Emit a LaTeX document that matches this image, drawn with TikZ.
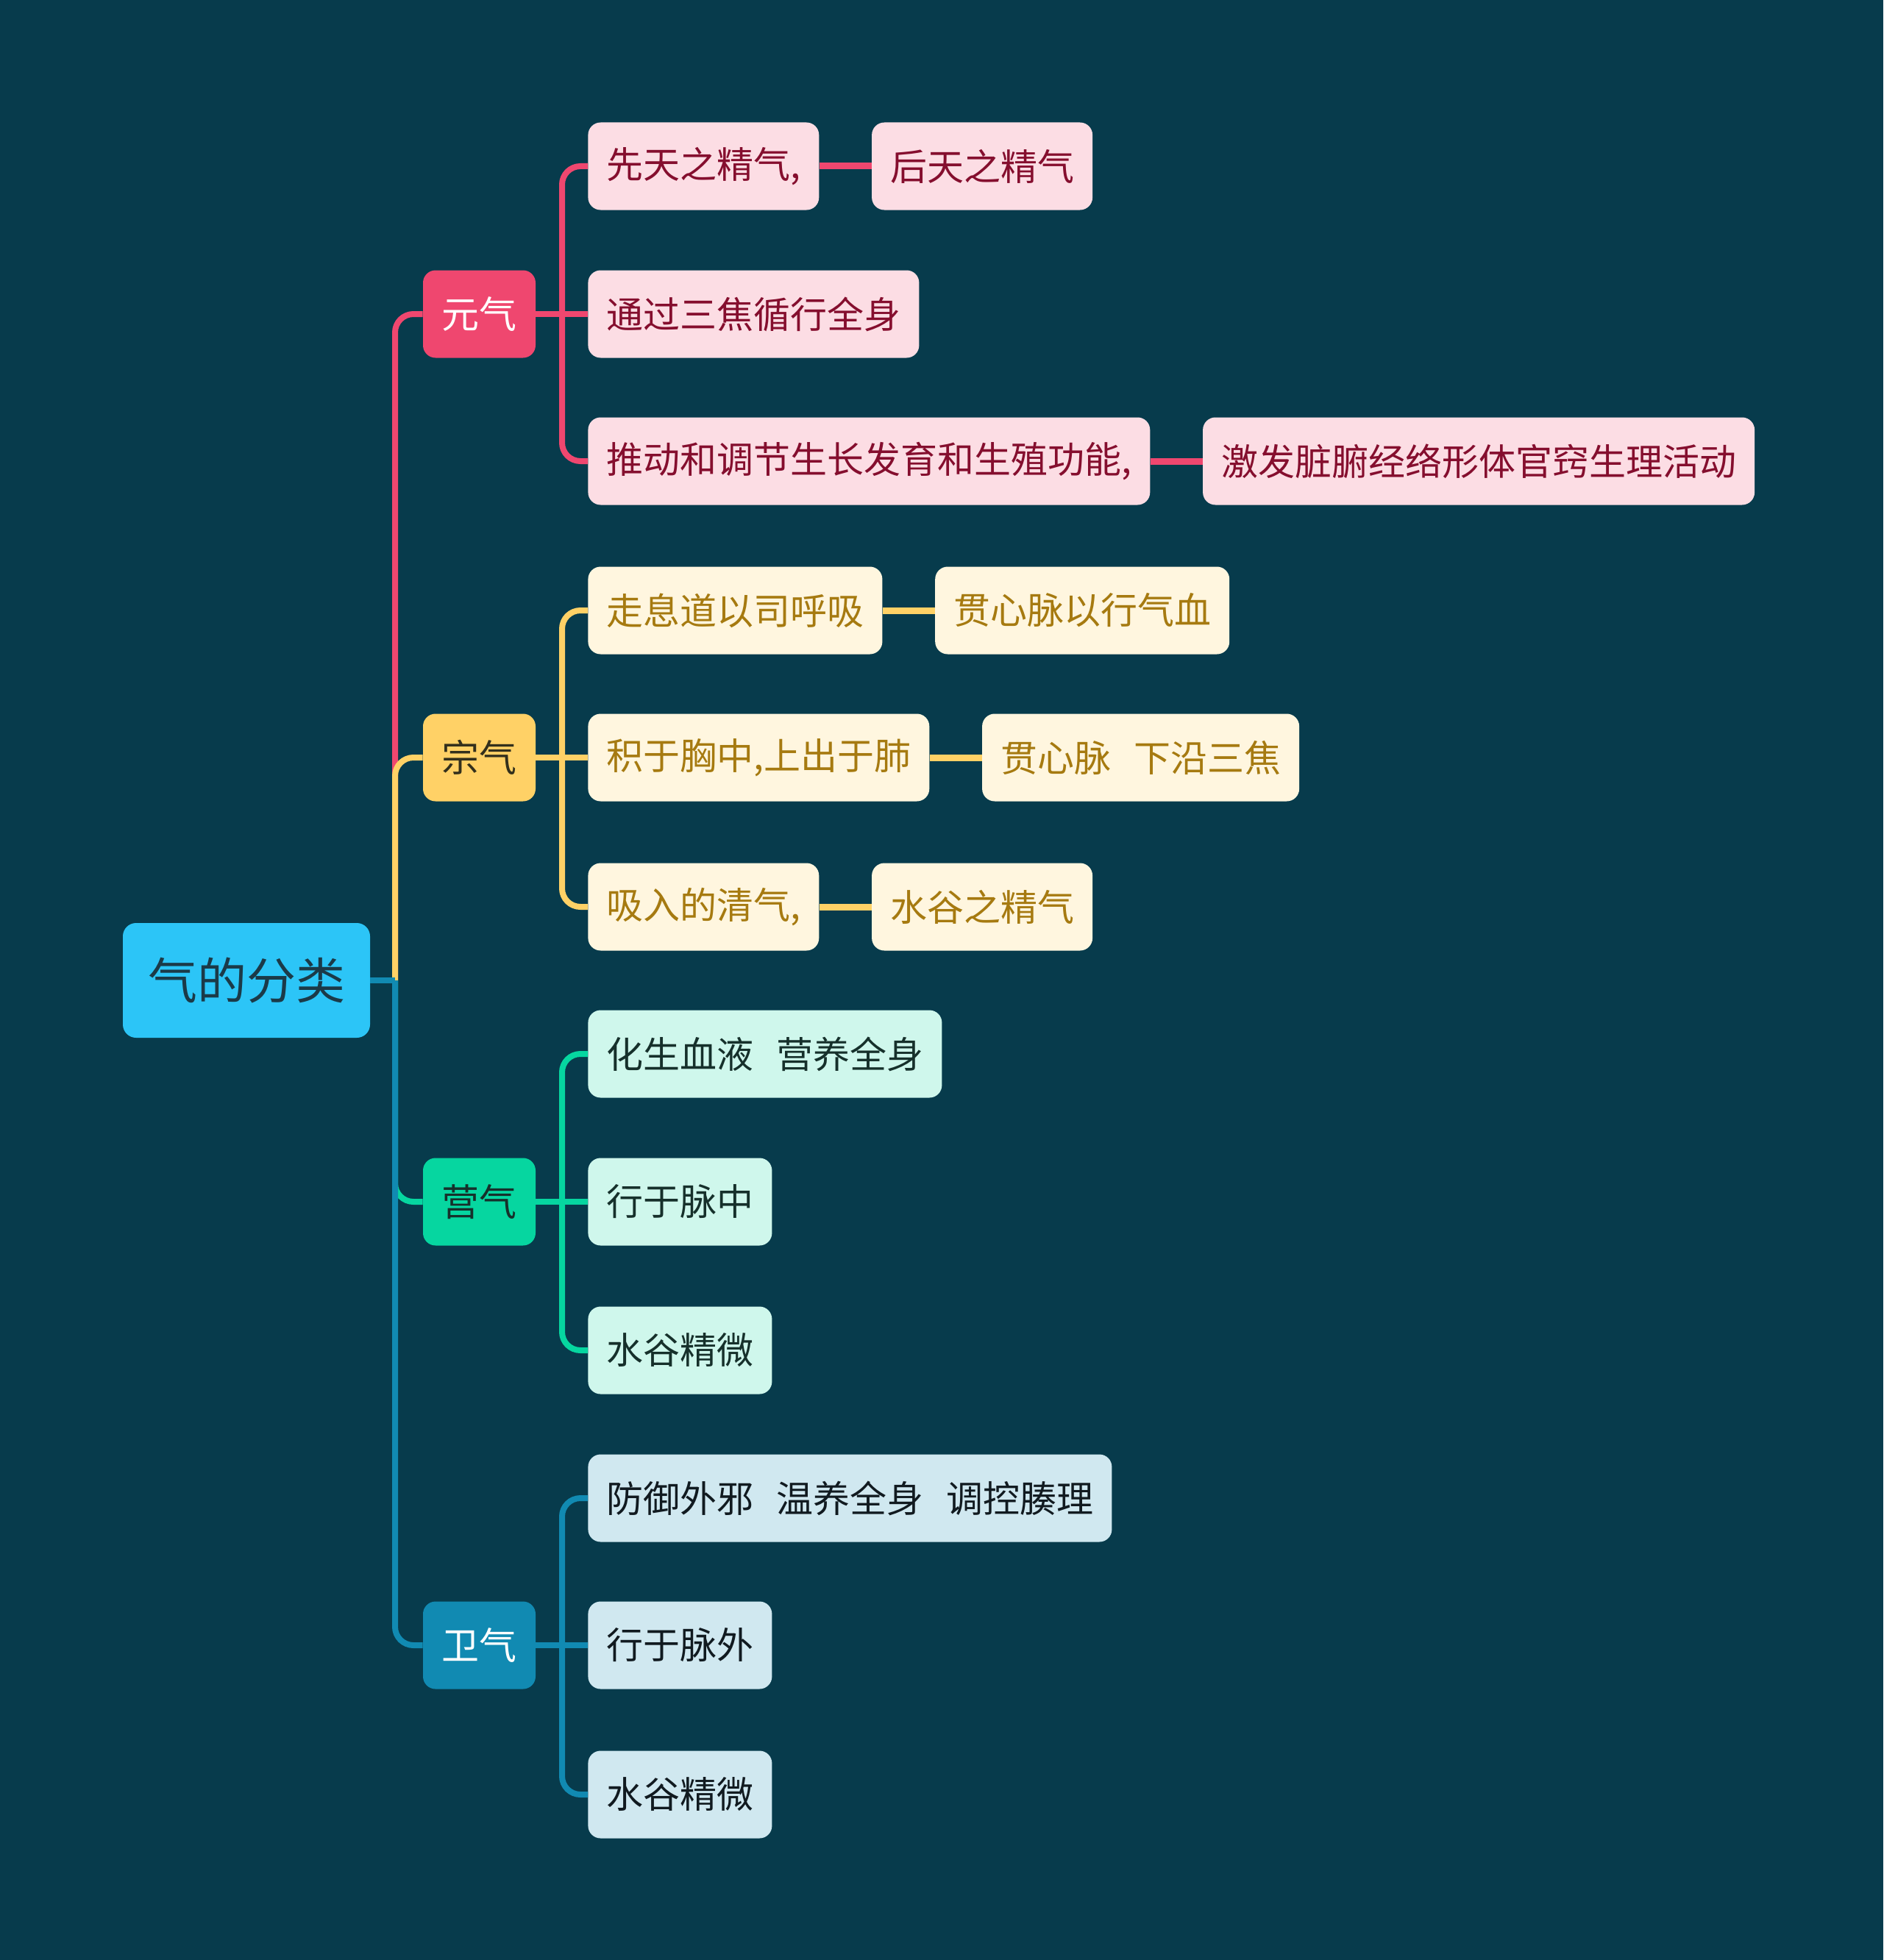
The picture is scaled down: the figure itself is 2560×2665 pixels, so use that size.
\documentclass[tikz,border=0pt]{standalone}
\usepackage{fontspec}
\setmainfont{Noto Sans CJK SC}
\definecolor{bg}{HTML}{073B4C}
\definecolor{cRoot}{HTML}{2CC5F7}
\definecolor{cRootT}{HTML}{1B3A48}
\definecolor{cPink}{HTML}{EF476F}
\definecolor{cPinkL}{HTML}{FCDDE4}
\definecolor{cPinkT}{HTML}{850E2E}
\definecolor{cYel}{HTML}{FFD166}
\definecolor{cYelL}{HTML}{FFF6DF}
\definecolor{cYelT}{HTML}{A67A10}
\definecolor{cYelD}{HTML}{33301C}
\definecolor{cGrn}{HTML}{06D6A0}
\definecolor{cGrnL}{HTML}{CFF7EC}
\definecolor{cGrnT}{HTML}{16302B}
\definecolor{cBlu}{HTML}{118AB2}
\definecolor{cBluL}{HTML}{D0E8F0}
\definecolor{cBluT}{HTML}{111A20}
\newcommand{\gapsp}{\hspace{0.62em}}
\tikzset{
  rootbox/.style={fill=cRoot, text=cRootT, rounded corners=9pt, minimum width=168pt, minimum height=78pt, font=\fontsize{33.5}{36}\selectfont, inner sep=0pt},
  mainbox/.style={rounded corners=8.5pt, minimum width=76.5pt, minimum height=59.5pt, font=\fontsize{25.5}{28}\selectfont, inner sep=0pt},
  leafbox/.style={rounded corners=8.5pt, minimum height=59.5pt, inner xsep=12.5pt, inner ysep=0pt, font=\fontsize{25}{28}\selectfont, anchor=west},
  pinkleaf/.style={leafbox, fill=cPinkL, text=cPinkT},
  yelleaf/.style={leafbox, fill=cYelL, text=cYelT},
  grnleaf/.style={leafbox, fill=cGrnL, text=cGrnT},
  bluleaf/.style={leafbox, fill=cBluL, text=cBluT},
  conn/.style={line width=4pt, rounded corners=12.5pt},
  thickconn/.style={line width=4.5pt},
}
\begin{document}
\begin{tikzpicture}[x=0.5pt,y=-0.5pt]
\fill[bg] (0,0) rectangle (2560,2665);
\useasboundingbox (0,0) rectangle (2560,2665);

% root and main branches
\node[rootbox] (root) at (335,1333) {气的分类};
\node[mainbox, fill=cPink, text=white] (yq) at (651.5,427) {元气};
\node[mainbox, fill=cYel, text=cYelD] (zq) at (651.5,1030) {宗气};
\node[mainbox, fill=cGrn, text=cGrnT] (ygq) at (651.5,1634) {营气};
\node[mainbox, fill=cBlu, text=white] (wq) at (651.5,2237) {卫气};

% 元气 leaves
\node[pinkleaf] (a1) at (799,226) {先天之精气,};
\node[pinkleaf] (a1b) at ([xshift=35.5pt]a1.east) {后天之精气};
\node[pinkleaf] (a2) at (799,427) {通过三焦循行全身};
\node[pinkleaf] (a3) at (799,627) {推动和调节生长发育和生殖功能,};
\node[pinkleaf] (a3b) at ([xshift=35.5pt]a3.east) {激发脏腑经络形体官窍生理活动};

% 宗气 leaves
\node[yelleaf] (b1) at (799,830) {走息道以司呼吸};
\node[yelleaf] (b1b) at ([xshift=35.5pt]b1.east) {贯心脉以行气血};
\node[yelleaf] (b2) at (799,1030) {积于胸中,上出于肺};
\node[yelleaf] (b2b) at ([xshift=35.5pt]b2.east) {贯心脉\gapsp 下沿三焦};
\node[yelleaf] (b3) at (799,1233) {吸入的清气,};
\node[yelleaf] (b3b) at ([xshift=35.5pt]b3.east) {水谷之精气};

% 营气 leaves
\node[grnleaf] (c1) at (799,1433) {化生血液\gapsp 营养全身};
\node[grnleaf] (c2) at (799,1634) {行于脉中};
\node[grnleaf] (c3) at (799,1836) {水谷精微};

% 卫气 leaves
\node[bluleaf] (d1) at (799,2037) {防御外邪\gapsp 温养全身\gapsp 调控腠理};
\node[bluleaf] (d2) at (799,2237) {行于脉外};
\node[bluleaf] (d3) at (799,2440) {水谷精微};

% junctions
\coordinate (j0) at (537,1333);
\coordinate (ja) at (764,427);
\coordinate (jb) at (764,1030);
\coordinate (jc) at (764,1634);
\coordinate (jd) at (764,2237);

% root to main branches
\draw[conn, cPink] (j0) |- (yq.west);
\draw[conn, cYel] (j0) |- (zq.west);
\draw[conn, cGrn] (j0) |- (ygq.west);
\draw[conn, cBlu] (j0) |- (wq.west);
\draw[conn, cBlu] (root.east) -- (j0);

% 元气
\draw[conn, cPink] (yq.east) -- (ja);
\draw[conn, cPink] (ja) |- (a1.west);
\draw[conn, cPink] (ja) -- (a2.west);
\draw[conn, cPink] (ja) |- (a3.west);
\draw[thickconn, cPink] (a1.east) -- (a1b.west);
\draw[thickconn, cPink] (a3.east) -- (a3b.west);

% 宗气
\draw[conn, cYel] (zq.east) -- (jb);
\draw[conn, cYel] (jb) |- (b1.west);
\draw[conn, cYel] (jb) -- (b2.west);
\draw[conn, cYel] (jb) |- (b3.west);
\draw[thickconn, cYel] (b1.east) -- (b1b.west);
\draw[thickconn, cYel] (b2.east) -- (b2b.west);
\draw[thickconn, cYel] (b3.east) -- (b3b.west);

% 营气
\draw[conn, cGrn] (ygq.east) -- (jc);
\draw[conn, cGrn] (jc) |- (c1.west);
\draw[conn, cGrn] (jc) -- (c2.west);
\draw[conn, cGrn] (jc) |- (c3.west);

% 卫气
\draw[conn, cBlu] (wq.east) -- (jd);
\draw[conn, cBlu] (jd) |- (d1.west);
\draw[conn, cBlu] (jd) -- (d2.west);
\draw[conn, cBlu] (jd) |- (d3.west);
\end{tikzpicture}
\end{document}
